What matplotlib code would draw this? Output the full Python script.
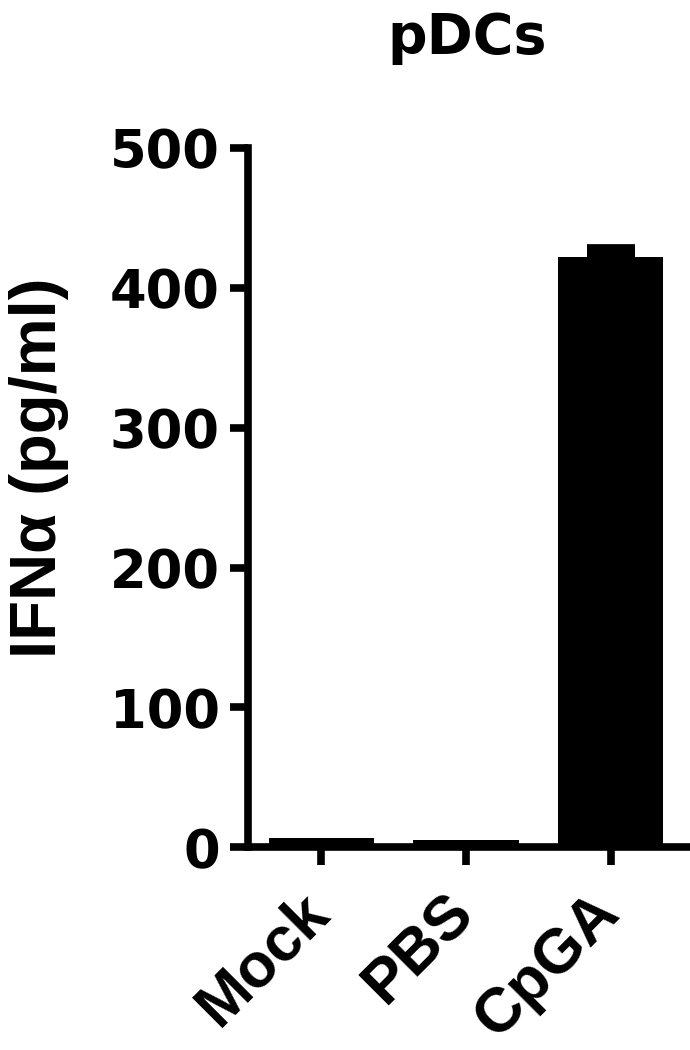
import matplotlib.pyplot as plt
from matplotlib.transforms import ScaledTranslation

groups = ["Mock", "PBS", "CpGA"]
ifna = [7, 5, 422]
ifna_err = [0, 0, 6]
yticks = [0, 100, 200, 300, 400, 500]

plt.rcParams['font.family'] = ['DejaVu Sans']
plt.rcParams['font.weight'] = 'bold'
narrow = ['Liberation Sans', 'DejaVu Sans']

fig = plt.figure(figsize=(6.9, 10.5), dpi=100)
ax = fig.add_axes([0.359, 0.193, 0.637, 0.666])

x = range(len(groups))
ax.bar(x, ifna, width=0.73, color='black', zorder=2)
ax.errorbar(x[2], ifna[2], yerr=[[0], [ifna_err[2]]], fmt='none', ecolor='black',
            elinewidth=3, capsize=17, capthick=7, zorder=1)

ax.set_xlim(-0.51, 2.53)
ax.set_ylim(0, 500)
ax.set_yticks(yticks)
ax.set_xticks(list(x))
ax.set_xticklabels(groups, rotation=45, ha='right', va='top', rotation_mode='anchor',
                   fontsize=45, fontweight='bold', family=narrow)

for s in ['top', 'right']:
    ax.spines[s].set_visible(False)
for s in ['left', 'bottom']:
    ax.spines[s].set_linewidth(5.5)
ax.tick_params(axis='both', width=5.5, length=13)
ax.tick_params(axis='y', labelsize=38, pad=7)
ax.tick_params(axis='x', pad=12)
for lab in ax.get_yticklabels():
    lab.set_fontweight('bold')

# shift rotated x labels a bit to the left, like the original
shift = ScaledTranslation(-22 / 100, 0, fig.dpi_scale_trans)
for lab in ax.get_xticklabels():
    lab.set_transform(lab.get_transform() + shift)

fig.text(0.0558, 0.555, 'IFNα (pg/ml)', fontsize=47, fontweight='bold', family=narrow,
         rotation=90, ha='center', va='center')
fig.text(0.677, 0.9495, 'pDCs', fontsize=40, fontweight='bold', ha='center', va='baseline')

fig.savefig('out.png', dpi=100)
